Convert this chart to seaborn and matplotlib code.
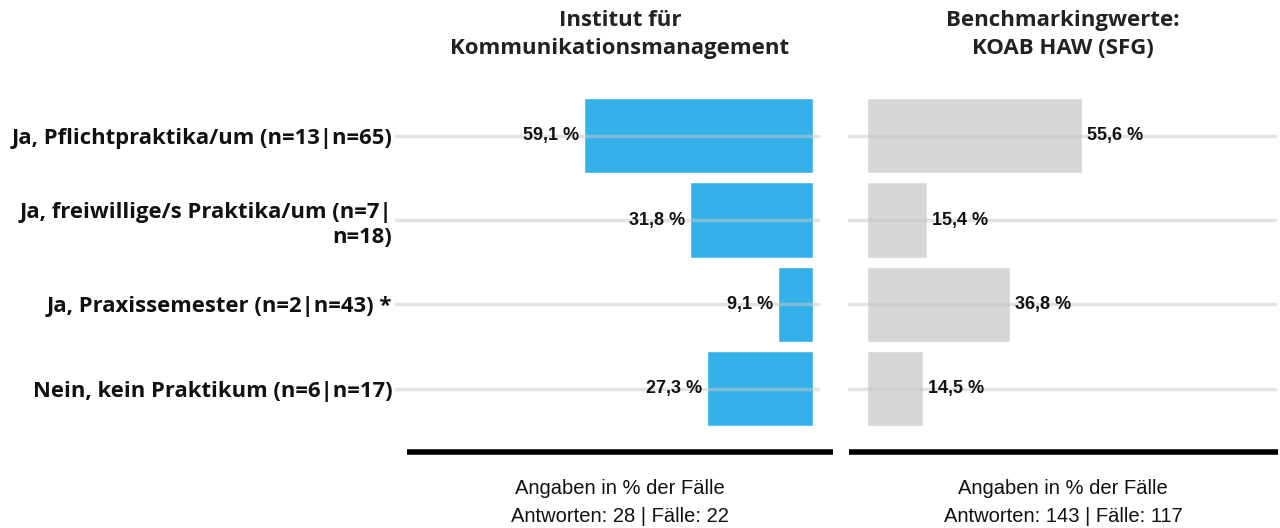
import matplotlib
matplotlib.use("Agg")
import matplotlib.pyplot as plt
import pandas as pd
import seaborn as sns

categories = [
    "Ja, Pflichtpraktika/um (n=13|n=65)",
    "Ja, freiwillige/s Praktika/um (n=7|\nn=18)",
    "Ja, Praxissemester (n=2|n=43) *",
    "Nein, kein Praktikum (n=6|n=17)",
]
institut_values = [59.1, 31.8, 9.1, 27.3]
benchmark_values = [55.6, 15.4, 36.8, 14.5]

titles = ["Institut für\nKommunikationsmanagement", "Benchmarkingwerte:\nKOAB HAW (SFG)"]
footers = ["Angaben in % der Fälle\nAntworten: 28 | Fälle: 22",
           "Angaben in % der Fälle\nAntworten: 143 | Fälle: 117"]

BLUE = "#35B1E9"
GRAY = "#D6D6D6"
HEAD_FONT = ["Open Sans", "DejaVu Sans"]

sns.set_theme(style="white")
plt.rcParams["font.family"] = ["Liberation Sans", "DejaVu Sans"]

df = pd.DataFrame({"cat": categories, "inst": institut_values, "bench": benchmark_values})

W, H = 1280, 528
fig = plt.figure(figsize=(12.8, 5.28), dpi=100)

bottom = 1 - 452 / H
top = 1 - 93.5 / H
ax_l = fig.add_axes([395 / W, bottom, (833 - 395) / W, top - bottom])
ax_r = fig.add_axes([848 / W, bottom, (1278 - 848) / W, top - bottom])

sns.barplot(data=df, x="inst", y="cat", ax=ax_l, color=BLUE, saturation=1, width=0.89)
sns.barplot(data=df, x="bench", y="cat", ax=ax_r, color=GRAY, saturation=1, width=0.89)

ax_l.set_xlim(107.9, -5.16)
ax_r.set_xlim(-4.9, 106.1)

for ax in (ax_l, ax_r):
    ax.set_ylim(3.75, -0.5)
    ax.set_xlabel("")
    ax.set_ylabel("")
    ax.set_xticks([])
    ax.tick_params(axis="y", length=0)
    for s in ax.spines.values():
        s.set_visible(False)

# gridlines over the bars
for i in range(len(categories)):
    ax_l.axhline(i, xmin=0, xmax=(818 - 395) / (833 - 395), color="#C8C8C8",
                 alpha=0.5, lw=2.5, zorder=3)
    ax_r.axhline(i, xmin=0, xmax=(1275 - 848) / (1278 - 848), color="#C8C8C8",
                 alpha=0.5, lw=2.5, zorder=3)

# thick baseline
ax_l.axhline(3.75, xmin=(407 - 395) / (833 - 395), xmax=1, color="black", lw=4,
             solid_capstyle="butt", clip_on=False)
ax_r.axhline(3.75, xmin=0.002, xmax=1, color="black", lw=4,
             solid_capstyle="butt", clip_on=False)

ax_l.set_yticks(range(len(categories)))
ax_l.set_yticklabels(categories, fontsize=15.8, fontweight="bold", family=HEAD_FONT,
                     ha="right", linespacing=1.3, color="#111111")
ax_l.tick_params(axis="y", pad=2)
ax_r.set_yticks([])

for i, v in enumerate(institut_values):
    ax_l.text(v, i, f"{v:.1f} %".replace(".", ",") + " ", ha="right", va="center",
              fontsize=13, fontweight="bold", color="#111111")
for i, v in enumerate(benchmark_values):
    ax_r.text(v, i, " " + f"{v:.1f} %".replace(".", ","), ha="left", va="center",
              fontsize=13, fontweight="bold", color="#111111")

for cx, t, f in zip([620 / W, 1063 / W], titles, footers):
    fig.text(cx, 1 - 34.5 / H, t, ha="center", va="center", fontsize=16, fontweight="bold",
             family=HEAD_FONT, color="#222222", linespacing=1.42)
    fig.text(cx, 1 - 502.5 / H, f, ha="center", va="center", fontsize=14.5,
             color="#111111", linespacing=1.65)

fig.savefig("out.png", dpi=100, facecolor="white")
